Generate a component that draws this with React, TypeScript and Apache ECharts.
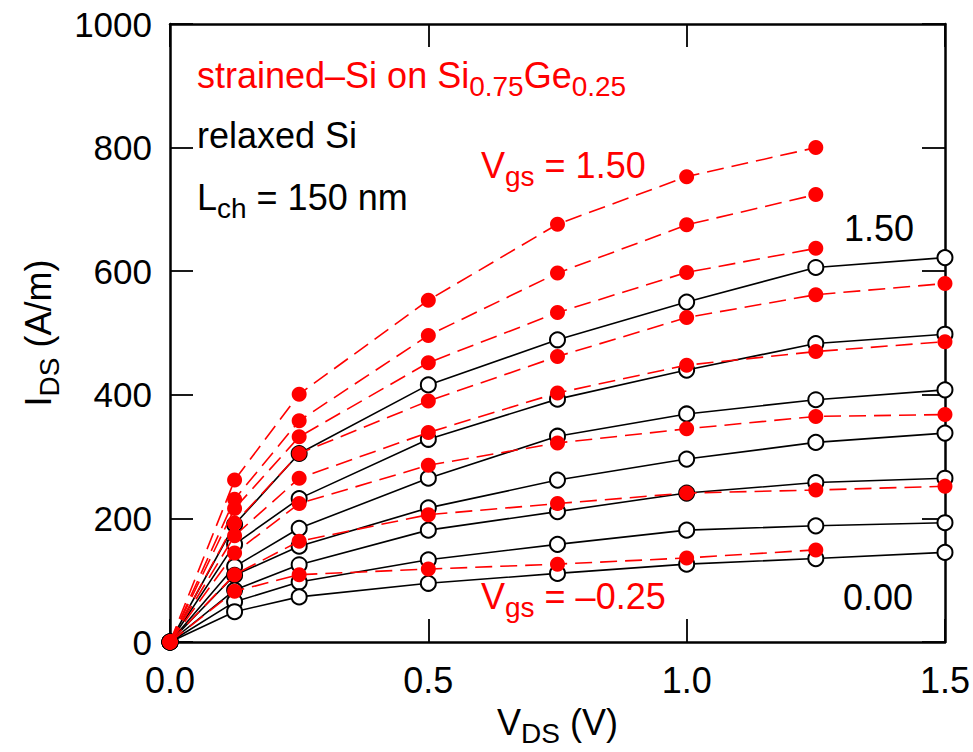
import React, { useEffect, useRef } from "react";
import * as echarts from "echarts";

// Drain voltage sweep (V)
const vds = [0, 0.125, 0.25, 0.5, 0.75, 1.0, 1.25, 1.5];

// Relaxed Si, I_DS (A/m), one list per gate voltage
const relaxedVgs150 = [0, 190, 305, 416, 489, 550, 606, 622];
const relaxedVgs125 = [0, 158, 232, 328, 393, 440, 483, 498];
const relaxedVgs100 = [0, 122, 184, 265, 333, 369, 392, 408];
const relaxedVgs075 = [0, 108, 155, 217, 262, 296, 323, 338];
const relaxedVgs050 = [0, 84, 125, 181, 211, 241, 258, 265];
const relaxedVgs025 = [0, 65, 97, 133, 158, 181, 188, 193];
const relaxedVgs000 = [0, 49, 73, 95, 111, 126, 135, 145];

// Strained Si on Si0.75Ge0.25, I_DS (A/m); null = not simulated
const strainedVgs150 = [0, 262, 401, 553, 676, 753, 800, null];
const strainedVgs125 = [0, 231, 358, 496, 597, 675, 724, null];
const strainedVgs100 = [0, 216, 332, 452, 533, 598, 637, null];
const strainedVgs075 = [0, 192, 305, 390, 462, 525, 562, 580];
const strainedVgs050 = [0, 172, 265, 339, 403, 448, 470, 486];
const strainedVgs025 = [0, 144, 224, 286, 322, 345, 365, 368];
const strainedVgs000 = [0, 109, 163, 206, 224, 241, 246, 252];
const strainedVgsM025 = [0, 82, 109, 118, 126, 136, 149, null];

const relaxedCurves = [
  relaxedVgs150, relaxedVgs125, relaxedVgs100, relaxedVgs075,
  relaxedVgs050, relaxedVgs025, relaxedVgs000,
];
const relaxedNames = ["1.50", "1.25", "1.00", "0.75", "0.50", "0.25", "0.00"];
const strainedCurves = [
  strainedVgs150, strainedVgs125, strainedVgs100, strainedVgs075,
  strainedVgs050, strainedVgs025, strainedVgs000, strainedVgsM025,
];
const strainedNames = ["1.50", "1.25", "1.00", "0.75", "0.50", "0.25", "0.00", "-0.25"];

const xTicks = { min: 0, max: 1.5, interval: 0.5 };
const yTicks = { min: 0, max: 1000, interval: 200 };

const FONT = "'Liberation Sans', Arial, Helvetica, sans-serif";
const RED = "#ff0000";
const BLACK = "#000000";

const toPoints = (ys: (number | null)[]) =>
  vds.map((x, i) => [x, ys[i]] as [number, number | null]).filter((p) => p[1] !== null);

// rich-text styles: base text and lowered subscript
const richStyles = (color: string) => ({
  b: { fontSize: 36, lineHeight: 36, fontFamily: FONT, color, fill: color, verticalAlign: "top" },
  s: {
    fontSize: 28, lineHeight: 28, fontFamily: FONT, color, fill: color,
    verticalAlign: "top", padding: [15, 0, 0, 0],
  },
});

export default function App() {
  const ref = useRef<HTMLDivElement>(null);

  useEffect(() => {
    if (!ref.current) return;
    const chart = echarts.init(ref.current, null, { renderer: "svg" });

    const frameAxis = {
      axisLine: { show: true, onZero: false, lineStyle: { color: BLACK, width: 2.5 } },
      axisTick: { show: true, inside: true, length: 23, lineStyle: { color: BLACK, width: 1.8 } },
      splitLine: { show: false },
    };

    const relaxedSeries = relaxedCurves.map((ys, i) => ({
      name: `relaxed Vgs=${relaxedNames[i]}`,
      type: "line",
      data: toPoints(ys),
      symbol: "emptyCircle",
      symbolSize: 15,
      showAllSymbol: true,
      clip: false,
      z: 2,
      lineStyle: { color: BLACK, width: 1.6 },
      itemStyle: { color: BLACK, borderColor: BLACK, borderWidth: 1.6 },
    }));

    const strainedSeries = strainedCurves.map((ys, i) => ({
      name: `strained Vgs=${strainedNames[i]}`,
      type: "line",
      data: toPoints(ys),
      symbol: "circle",
      symbolSize: 15,
      showAllSymbol: true,
      clip: false,
      z: 3,
      lineStyle: { color: RED, width: 1.6, type: [17, 8] },
      itemStyle: { color: RED, borderWidth: 0 },
    }));

    chart.setOption({
      animation: false,
      backgroundColor: "#ffffff",
      grid: { left: 170, right: 27, top: 24, bottom: 110, containLabel: false },
      xAxis: [
        {
          type: "value",
          position: "bottom",
          ...xTicks,
          ...frameAxis,
          axisLabel: {
            show: true,
            margin: 20,
            fontSize: 36,
            fontFamily: FONT,
            color: BLACK,
            formatter: (v: number) => v.toFixed(1),
          },
          name: "{b|V}{s|DS}{b| (V)}",
          nameLocation: "middle",
          nameGap: 62,
          nameTextStyle: { fontFamily: FONT, fontSize: 36, color: BLACK, rich: richStyles(BLACK) },
        },
        {
          type: "value",
          position: "top",
          ...xTicks,
          ...frameAxis,
          axisLabel: { show: false },
        },
      ],
      yAxis: [
        {
          type: "value",
          position: "left",
          ...yTicks,
          ...frameAxis,
          axisLabel: {
            show: true,
            margin: 18,
            fontSize: 35,
            fontFamily: FONT,
            color: BLACK,
            formatter: (v: number) => String(v),
          },
          name: "{b|I}{s|DS}{b| (A/m)}",
          nameLocation: "middle",
          nameRotate: 90,
          nameGap: 112,
          nameTextStyle: { fontFamily: FONT, fontSize: 36, color: BLACK, rich: richStyles(BLACK) },
        },
        {
          type: "value",
          position: "right",
          ...yTicks,
          ...frameAxis,
          axisLabel: { show: false },
        },
      ],
      series: [...relaxedSeries, ...strainedSeries],
      graphic: [
        {
          type: "text",
          x: 197,
          y: 57,
          style: {
            text: "{b|strained–Si on Si}{s|0.75}{b|Ge}{s|0.25}",
            rich: richStyles(RED),
            fill: RED,
            verticalAlign: "top",
          },
        },
        {
          type: "text",
          x: 197,
          y: 135,
          style: { text: "relaxed Si", fontSize: 36, fontFamily: FONT, fill: BLACK, verticalAlign: "middle" },
        },
        {
          type: "text",
          x: 197,
          y: 179,
          style: {
            text: "{b|L}{s|ch}{b| = 150 nm}",
            rich: richStyles(BLACK),
            fill: BLACK,
            verticalAlign: "top",
          },
        },
        {
          type: "text",
          x: 481,
          y: 147,
          style: {
            text: "{b|V}{s|gs}{b| = 1.50}",
            rich: richStyles(RED),
            fill: RED,
            verticalAlign: "top",
          },
        },
        {
          type: "text",
          x: 481,
          y: 578,
          style: {
            text: "{b|V}{s|gs}{b| = –0.25}",
            rich: richStyles(RED),
            fill: RED,
            verticalAlign: "top",
          },
        },
        {
          type: "text",
          x: 844,
          y: 228,
          style: { text: "1.50", fontSize: 36, fontFamily: FONT, fill: BLACK, verticalAlign: "middle" },
        },
        {
          type: "text",
          x: 843,
          y: 597,
          style: { text: "0.00", fontSize: 36, fontFamily: FONT, fill: BLACK, verticalAlign: "middle" },
        },
      ],
    });

    return () => chart.dispose();
  }, []);

  return (
    <div
      ref={ref}
      style={{ position: "fixed", left: 0, top: 0, width: 973, height: 752 }}
    />
  );
}
